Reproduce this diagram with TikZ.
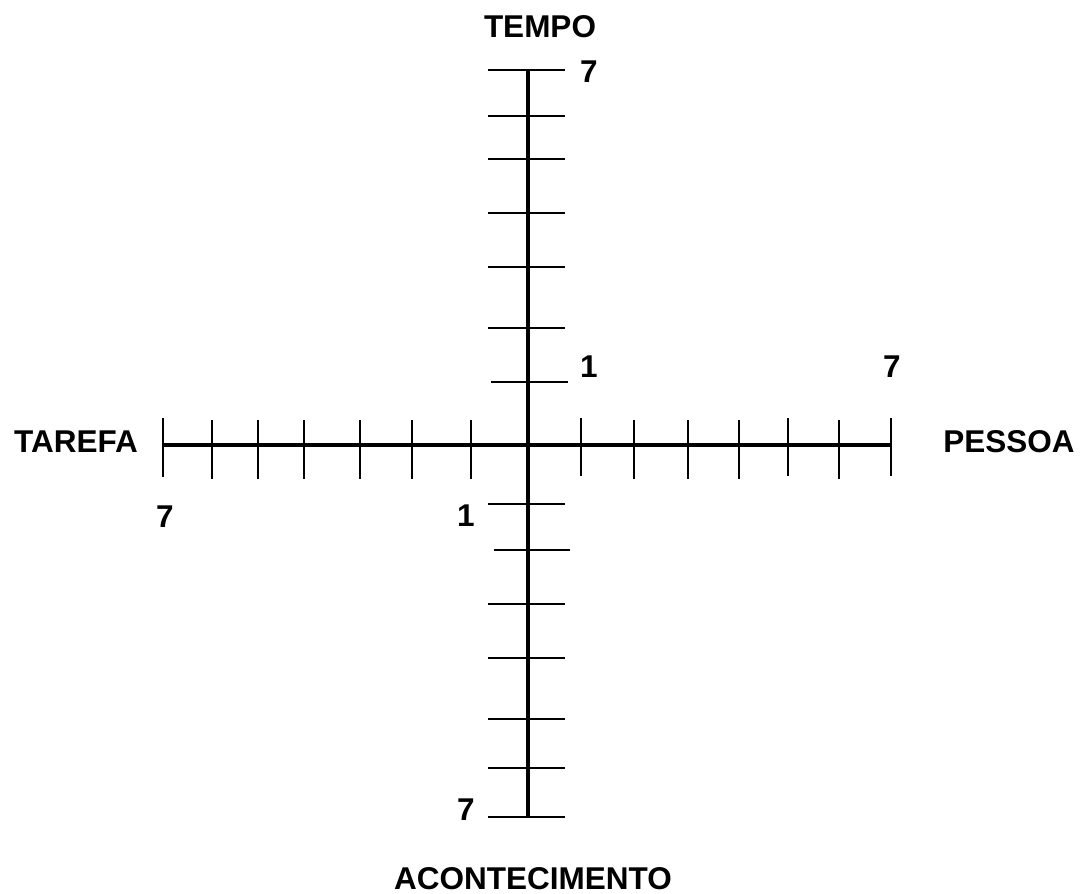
\documentclass[tikz,border=0pt]{standalone}
\usepackage{fontspec}
\setmainfont{Liberation Sans}
\begin{document}
\begin{tikzpicture}[x=1pt,y=-1pt,
  axisline/.style={line width=4.2pt},
  tickline/.style={line width=2.3pt},
  lbl/.style={font=\fontsize{31.5}{36}\selectfont\bfseries, inner sep=0pt, anchor=base}]
\useasboundingbox (0,0) rectangle (1082,894);
% axes
\coordinate (vt) at (528,70);
\coordinate (vb) at (528,817);
\coordinate (hl) at (163,445);
\coordinate (hr) at (892,445);
\draw[axisline] (vt) -- (vb);
\draw[axisline] (hl) -- (hr);
% vertical ticks
\foreach \y/\a/\b in {70/488/565,116/488/565,159/488/565,213/488/565,267/488/565,328/488/565,382/491/568,
                      504/488/565,550/494/570,604/488/565,658/488/565,719/488/565,768/488/565,817/488/565}
  \draw[tickline] (\a,\y) -- (\b,\y);
% horizontal ticks
\foreach \x/\a/\b in {163/418/477,212/420/479,258/420/479,304/420/479,360/420/479,412/420/479,471/420/479,
                      581/418/476,634/420/479,688/420/479,739/420/479,788/418/476,839/420/479,891/418/476}
  \draw[tickline] (\x,\a) -- (\x,\b);
% labels
\node[lbl] (tempo) at (540,37) {TEMPO};
\node[lbl] (tarefa) at (76,452) {TAREFA};
\node[lbl] (pessoa) at (1009,452) {PESSOA};
\node[lbl] (acont) at (533,889) {ACONTECIMENTO};
\node[lbl] (t7) at (589,82) {7};
\node[lbl] (t1) at (589,377) {1};
\node[lbl] (r7) at (892,377) {7};
\node[lbl] (l7) at (165,527) {7};
\node[lbl] (l1) at (466,526) {1};
\node[lbl] (b7) at (466,820) {7};
\end{tikzpicture}
\end{document}
